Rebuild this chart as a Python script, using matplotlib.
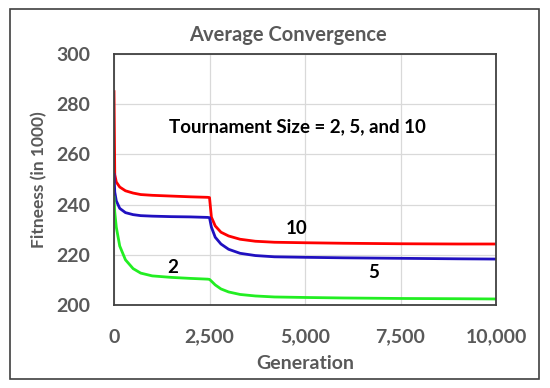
import matplotlib.pyplot as plt
from matplotlib.patches import Rectangle
from matplotlib.ticker import FuncFormatter

# values (fitness in 1000)
generation = [0, 20, 60, 150, 300, 500, 700, 1000, 1500, 2000, 2450, 2500,
              2550, 2650, 2800, 3000, 3300, 3700, 4200, 5000, 6000, 7500, 9000, 10000]
size_10 = [285, 252, 249, 247, 245.5, 244.6, 244, 243.7, 243.4, 243.1, 242.9, 242.8,
           235, 231.5, 229, 227.5, 226.2, 225.4, 225, 224.8, 224.6, 224.4, 224.3, 224.3]
size_5 = [252, 245, 241.5, 238.5, 236.8, 236, 235.6, 235.4, 235.2, 235.1, 234.9, 234.8,
          231, 227, 224.3, 222.2, 220.6, 219.7, 219.2, 219, 218.8, 218.6, 218.4, 218.3]
size_2 = [243, 237, 231, 223.5, 218, 214.5, 212.7, 211.6, 211, 210.6, 210.3, 210.2,
          209.5, 208, 206.4, 205.2, 204.2, 203.6, 203.2, 203, 202.8, 202.6, 202.5, 202.4]

x_ticks = [0, 2500, 5000, 7500, 10000]
y_ticks = [200, 220, 240, 260, 280, 300]

GRAY = "#595959"
plt.rcParams["font.family"] = ["Lato", "DejaVu Sans"]

fig = plt.figure(figsize=(5.5, 3.88), dpi=100)
ax = fig.add_axes([114 / 550, 1 - 305 / 388, 382 / 550, 251 / 388])

ax.plot(generation, size_10, color="#ff0000", lw=2.0)
ax.plot(generation, size_5, color="#2010c0", lw=2.0)
ax.plot(generation, size_2, color="#22ee22", lw=2.0)

ax.set_xlim(0, 10000)
ax.set_ylim(200, 300)
ax.set_xticks(x_ticks)
ax.set_yticks(y_ticks)
ax.xaxis.set_major_formatter(FuncFormatter(lambda v, p: f"{int(v):,}"))
ax.grid(True, color="#d9d9d9", lw=0.9)
ax.set_axisbelow(True)
ax.tick_params(length=0, labelsize=14, labelcolor=GRAY)
ax.tick_params(axis="x", pad=17)
ax.tick_params(axis="y", pad=17)
for lab in ax.get_xticklabels() + ax.get_yticklabels():
    lab.set_fontweight("bold")
for s in ax.spines.values():
    s.set_color("#404040")
    s.set_linewidth(1.3)

ax.set_xlabel("Generation", fontsize=14, fontweight="bold", color=GRAY)
ax.xaxis.label.set_va("center")
ax.xaxis.set_label_coords(0.5, -0.235)
ax.set_ylabel("Fitneess (in 1000)", fontsize=12.5, fontweight="bold", color=GRAY)
ax.yaxis.label.set_va("center")
ax.yaxis.set_label_coords(-0.196, 0.5)
fig.text(287.5 / 550, 1 - 35 / 388, "Average Convergence", ha="center", va="center",
         fontsize=14.5, fontweight="bold", color=GRAY)

ax.text(4790, 271, "Tournament Size = 2, 5, and 10", ha="center", va="center",
        fontsize=13.5, fontweight="bold", color="black")
ax.text(1545, 214.8, "2", ha="center", va="center", fontsize=13.5, fontweight="bold")
ax.text(4783, 230.3, "10", ha="center", va="center", fontsize=13.5, fontweight="bold")
ax.text(6806, 212.9, "5", ha="center", va="center", fontsize=13.5, fontweight="bold")

# outer chart border
fig.patches.append(Rectangle((10 / 550, 1 - 379 / 388), 529 / 550, 370 / 388,
                             transform=fig.transFigure, fill=False,
                             edgecolor="#404040", lw=1.2))

fig.savefig("out.png", dpi=100)
